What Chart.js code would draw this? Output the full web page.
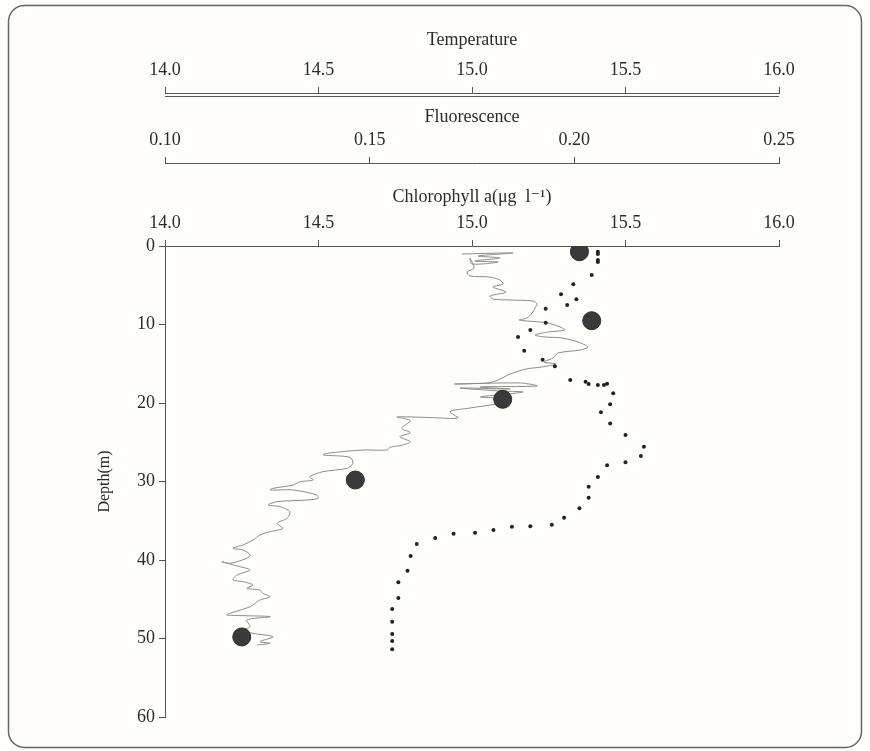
<!DOCTYPE html>
<html>
<head>
<meta charset="utf-8">
<script src="https://cdn.jsdelivr.net/npm/chart.js@4.4.1/dist/chart.umd.min.js"></script>
<style>
  html, body { margin: 0; padding: 0; background: #fffefa; }
  #wrap { width: 870px; height: 751px; }
</style>
</head>
<body>
<div id="wrap"><canvas id="c" width="870" height="751"></canvas></div>
<script>
// ---- tick labels ----
const tempTicks = [14.0, 14.5, 15.0, 15.5, 16.0];
const fluoTicks = [0.10, 0.15, 0.20, 0.25];
const chlTicks = [14.0, 14.5, 15.0, 15.5, 16.0];
const depthTicks = [0, 10, 20, 30, 40, 50, 60];

// ---- chlorophyll a (large circles) ----
const chlDepth = [0.73, 9.52, 19.53, 29.81, 49.8];
const chlValue = [15.35, 15.39, 15.10, 14.62, 14.25];

// ---- temperature (dots) ----
const tempDepth = [0.73, 1.02, 1.78, 2.04, 3.69, 4.88, 6.15, 6.79, 7.52, 7.99, 9.77, 10.70, 11.59, 13.34, 14.48, 15.32,
  17.07, 17.29, 17.58, 17.71, 17.71, 17.54, 18.76, 20.17, 21.18, 22.61, 24.08, 25.57, 26.75, 27.55, 27.94, 29.43,
  30.66, 32.06, 33.41, 34.61, 35.50, 35.71, 35.76, 36.18, 36.52, 36.65, 37.20, 37.96, 39.49, 41.36, 42.84, 44.84,
  46.24, 47.86, 49.43, 50.32, 51.38];
const tempValue = [15.41, 15.41, 15.41, 15.41, 15.39, 15.33, 15.29, 15.34, 15.31, 15.24, 15.24, 15.19, 15.15, 15.17, 15.23, 15.27,
  15.32, 15.37, 15.38, 15.41, 15.43, 15.44, 15.46, 15.45, 15.42, 15.45, 15.50, 15.56, 15.55, 15.50, 15.44, 15.41,
  15.38, 15.38, 15.35, 15.30, 15.26, 15.19, 15.13, 15.07, 15.01, 14.94, 14.88, 14.82, 14.80, 14.79, 14.76, 14.76,
  14.74, 14.74, 14.74, 14.74, 14.74];

// ---- fluorescence (thin trace) ----
const fluoDepth = [1.02, 0.89, 1.27, 1.53, 1.91, 2.04, 2.29, 1.53, 2.80, 3.31, 3.82, 3.95, 4.33, 4.84, 5.22, 5.86,
  6.37, 6.75, 6.88, 7.01, 7.39, 7.90, 8.54, 9.17, 9.43, 9.68, 9.81, 10.32, 10.70, 10.96, 11.34, 11.59, 11.72, 12.23,
  12.87, 13.25, 13.63, 14.27, 14.78, 15.03, 15.41, 15.67, 16.31, 17.07, 17.45, 17.58, 17.45, 17.83, 17.96, 18.22,
  18.09, 18.47, 18.60, 18.98,
  19.24, 19.36, 19.75, 20.13, 20.64, 21.11, 21.91, 21.85, 21.78, 22.25, 23.22, 23.78, 24.29, 24.93, 25.35, 25.64,
  25.99, 25.99, 26.41, 26.62, 26.92, 27.68, 28.32, 28.75, 29.39, 29.81, 30.03, 30.45, 30.87, 31.08, 31.08, 31.72,
  32.14, 32.36, 32.57, 32.99, 33.21, 33.85, 34.69, 35.32, 35.96, 36.39, 36.82, 37.45, 38.09, 38.51, 38.73, 39.36,
  39.78, 40.42, 40.22, 40.85, 41.27, 41.91, 42.55, 42.76, 43.18, 43.61, 43.82, 44.24, 44.68, 45.10, 45.95, 46.79,
  47.01, 47.22, 47.64, 48.50, 48.92, 49.34, 49.77, 50.41, 50.61, 50.83];
const fluoValue = [0.1726, 0.1850, 0.1765, 0.1818, 0.1757, 0.1814, 0.1750, 0.1745, 0.1755, 0.1738, 0.1745, 0.1794, 0.1818, 0.1826, 0.1801, 0.1833,
  0.1794, 0.1801, 0.1843, 0.1899, 0.1909, 0.1904, 0.1897, 0.1884, 0.1865, 0.1916, 0.1936, 0.1965, 0.1977, 0.1936, 0.1904, 0.1928, 0.1970, 0.2009,
  0.2033, 0.2014, 0.1960, 0.1948, 0.1926, 0.1955, 0.1921, 0.1882, 0.1843, 0.1814, 0.1789, 0.1708, 0.1867, 0.1909, 0.1770, 0.1843,
  0.1721, 0.1818, 0.1875, 0.1811,
  0.1770, 0.1806, 0.1843, 0.1811, 0.1745, 0.1696, 0.1716, 0.1647, 0.1567, 0.1599, 0.1578, 0.1599, 0.1574, 0.1599, 0.1581, 0.1550,
  0.1542, 0.1484, 0.1396, 0.1386, 0.1452, 0.1459, 0.1445, 0.1386, 0.1354, 0.1362, 0.1330, 0.1313, 0.1264, 0.1257, 0.1313, 0.1371,
  0.1374, 0.1347, 0.1274, 0.1252, 0.1281, 0.1305, 0.1298, 0.1274, 0.1288, 0.1257, 0.1232, 0.1215, 0.1191, 0.1166, 0.1191, 0.1208,
  0.1200, 0.1159, 0.1139, 0.1183, 0.1208, 0.1176, 0.1166, 0.1191, 0.1215, 0.1200, 0.1232, 0.1239, 0.1257, 0.1232, 0.1208, 0.1159,
  0.1151, 0.1257, 0.1200, 0.1208, 0.1191, 0.1215, 0.1264, 0.1232, 0.1257, 0.1225];

const zip = (xs, ys) => xs.map((x, i) => ({ x: x, y: ys[i] }));

const SERIF = '"Liberation Serif", "Times New Roman", "DejaVu Serif", serif';
const TXT = '#2b2b2b';
const AX = '#555555';

function setTicks(arr) {
  return function (scale) { scale.ticks = arr.map(v => ({ value: v })); };
}

function topAxis(arr, minV, maxV, titleText, titleTop, height, weight, digits) {
  return {
    type: 'linear',
    position: 'top',
    weight: weight,
    min: minV,
    max: maxV,
    afterBuildTicks: setTicks(arr),
    afterFit: function (scale) { scale.height = height; },
    ticks: {
      color: TXT,
      font: { family: SERIF, size: 18 },
      padding: 6,
      maxRotation: 0,
      autoSkip: false,
      callback: v => Number(v).toFixed(digits)
    },
    grid: { display: true, drawOnChartArea: false, drawTicks: true, tickLength: 6, color: AX, lineWidth: 1 },
    border: { display: true, color: AX, width: 1 },
    title: { display: true, text: titleText, color: TXT, font: { family: SERIF, size: 18 }, padding: { top: titleTop, bottom: 0 } }
  };
}

const bgPlugin = {
  id: 'bg',
  beforeDraw(chart) {
    const ctx = chart.ctx;
    ctx.save();
    ctx.fillStyle = '#fffefa';
    ctx.fillRect(0, 0, chart.width, chart.height);
    ctx.strokeStyle = '#666666';
    ctx.lineWidth = 1.5;
    ctx.beginPath();
    ctx.roundRect(8.5, 5.5, 853, 742, 16);
    ctx.stroke();
    ctx.restore();
  },
  afterDraw(chart) {
    // second (double) rule under the temperature axis
    const s = chart.scales.xT;
    const ctx = chart.ctx;
    ctx.save();
    ctx.strokeStyle = AX;
    ctx.lineWidth = 1;
    ctx.beginPath();
    ctx.moveTo(s.left, s.bottom + 3.5);
    ctx.lineTo(s.right, s.bottom + 3.5);
    ctx.stroke();
    ctx.restore();
  }
};

new Chart(document.getElementById('c'), {
  type: 'scatter',
  data: {
    datasets: [
      {
        label: 'Fluorescence',
        data: zip(fluoValue, fluoDepth),
        xAxisID: 'xF', yAxisID: 'y',
        showLine: true,
        borderColor: '#8c8c8c',
        borderWidth: 1,
        pointRadius: 0,
        tension: 0.3,
        order: 3
      },
      {
        label: 'Temperature',
        data: zip(tempValue, tempDepth),
        xAxisID: 'xT', yAxisID: 'y',
        showLine: false,
        pointRadius: 2,
        pointBackgroundColor: '#222222',
        pointBorderWidth: 0,
        order: 2
      },
      {
        label: 'Chlorophyll a',
        data: zip(chlValue, chlDepth),
        xAxisID: 'xC', yAxisID: 'y',
        showLine: false,
        pointRadius: 9,
        pointBackgroundColor: '#3a3a3a',
        pointBorderColor: '#2a2a2a',
        pointBorderWidth: 1,
        order: 1
      }
    ]
  },
  options: {
    responsive: false,
    animation: false,
    layout: { padding: { left: 85, right: 91, top: 25, bottom: 34 } },
    plugins: { legend: { display: false }, tooltip: { enabled: false } },
    scales: {
      xT: topAxis(tempTicks, 14, 16, 'Temperature', 4, 68, 3, 1),
      xF: topAxis(fluoTicks, 0.10, 0.25, 'Fluorescence', 13, 70, 2, 2),
      xC: topAxis(chlTicks, 14, 16, 'Chlorophyll a(\u03BCg  l\u207B\u00B9)', 23, 83, 1, 1),
      y: {
        type: 'linear',
        position: 'left',
        reverse: true,
        min: 0,
        max: 60,
        afterBuildTicks: setTicks(depthTicks),
        afterFit: function (scale) { scale.width = 80; },
        ticks: { color: TXT, font: { family: SERIF, size: 18 }, padding: 4, autoSkip: false },
        grid: { display: true, drawOnChartArea: false, drawTicks: true, tickLength: 6, color: AX, lineWidth: 1 },
        border: { display: true, color: AX, width: 1 },
        title: { display: true, text: 'Depth(m)', color: TXT, font: { family: SERIF, size: 16 }, padding: { top: 10, bottom: 0 } }
      }
    }
  },
  plugins: [bgPlugin]
});
</script>
</body>
</html>
